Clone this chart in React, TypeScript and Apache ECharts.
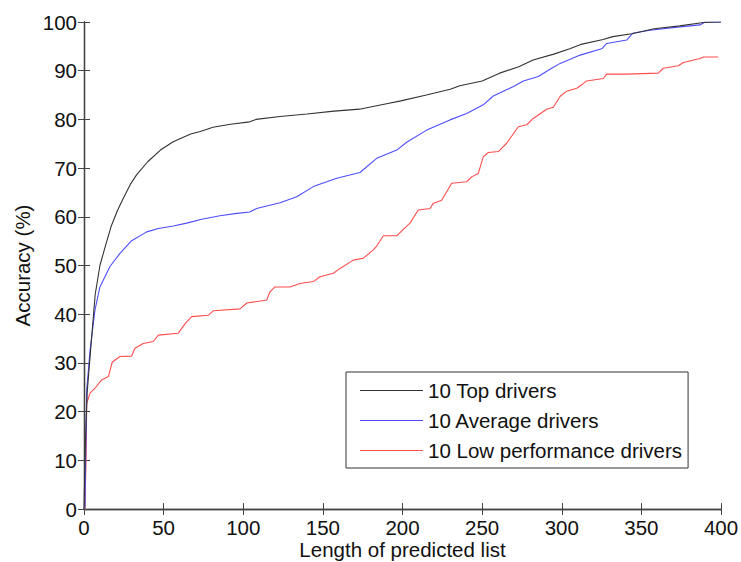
import React, { useEffect, useRef } from "react";
import * as echarts from "echarts";

const topX = [0, 1, 2, 4, 7, 10, 13, 17, 21, 25, 29, 33, 40, 48, 56, 67, 73, 81, 92, 104, 108, 123, 140, 157, 173, 190, 199, 215, 230, 236, 250, 261, 273, 282, 295, 305, 312, 326, 332, 344, 358, 374, 389, 400];
const topY = [0, 15, 24, 32, 44, 50, 53.5, 58, 61.3, 64, 66.6, 68.6, 71.3, 73.7, 75.4, 77, 77.5, 78.4, 79, 79.5, 80, 80.6, 81.1, 81.7, 82.1, 83.2, 83.8, 85, 86.2, 86.9, 87.9, 89.5, 90.8, 92.2, 93.4, 94.5, 95.4, 96.4, 97, 97.6, 98.6, 99.2, 99.9, 100];

const avgX = [0, 0.6, 1.7, 3.8, 6.9, 10, 16.3, 22.6, 29.9, 39.4, 46.7, 56.1, 64.5, 73.9, 85.4, 95.9, 104, 108.4, 123.1, 133.6, 144, 158.7, 173.3, 183.8, 196.4, 202.6, 215.2, 229.8, 240.3, 250.7, 257, 270.6, 275.9, 285.3, 292.6, 299, 305, 311.5, 325.1, 328.2, 340.8, 344.6, 355.4, 374.3, 386.8, 390, 400];
const avgY = [0, 0.5, 24.4, 32.6, 40.9, 45.6, 49.8, 52.5, 55.1, 56.9, 57.6, 58.1, 58.7, 59.5, 60.2, 60.7, 61, 61.7, 62.9, 64.1, 66.2, 67.9, 69.1, 72, 73.7, 75.3, 77.8, 79.9, 81.2, 83, 84.8, 86.9, 87.9, 88.8, 90.3, 91.5, 92.3, 93.2, 94.5, 95.6, 96.3, 97.7, 98.3, 99, 99.4, 100, 100];

const lowX = [0, 0.6, 1.3, 1.7, 3.8, 6.9, 11.1, 15.3, 17.8, 22.6, 29.9, 32, 37.2, 43.5, 46.7, 59.2, 63.4, 67.6, 78.1, 81.2, 98, 102.2, 114.7, 116.8, 119.9, 129.4, 135.6, 144, 148.2, 156.6, 160.8, 169.1, 175.4, 181.7, 183.8, 188, 196.4, 200.5, 204.7, 209.9, 217.3, 219.4, 224.6, 230.9, 240.3, 243.4, 247.6, 250.7, 253.9, 260.2, 265.4, 272.7, 278, 282.1, 290.5, 294.7, 298.9, 303.1, 309.4, 312.5, 315.6, 326.1, 328.2, 340.8, 360.6, 363.8, 373.2, 376.4, 386.8, 388.9, 398.3];
const lowY = [0, 0, 10.7, 21.7, 23.8, 24.8, 26.5, 27.2, 30.2, 31.3, 31.4, 33, 34, 34.4, 35.7, 36.1, 38, 39.5, 39.8, 40.7, 41.1, 42.3, 42.9, 44.6, 45.6, 45.6, 46.3, 46.7, 47.7, 48.4, 49.4, 51.1, 51.5, 53.2, 54, 56.1, 56.1, 57.4, 58.7, 61.4, 61.7, 62.8, 63.4, 66.9, 67.2, 68.2, 68.9, 72.3, 73.2, 73.4, 75.1, 78.5, 78.9, 80.2, 82.1, 82.5, 84.7, 85.8, 86.4, 87.1, 87.9, 88.4, 89.3, 89.3, 89.5, 90.5, 91, 91.7, 92.5, 92.8, 92.8];

const seriesNames = ["10 Top drivers", "10 Average drivers", "10 Low performance drivers"];
const seriesColors = ["#333333", "#4d4dff", "#ff4d4d"];
const xTicks = { min: 0, max: 400, interval: 50 };
const yTicks = { min: 0, max: 100, interval: 10 };

const FONT = "Liberation Sans, Arial, Helvetica, sans-serif";
const FS = 20.5;

function pairs(xs: number[], ys: number[]) {
  return xs.map((x, i) => [x, ys[i]]);
}

export default function App() {
  const ref = useRef<HTMLDivElement>(null);
  useEffect(() => {
    if (!ref.current) return;
    const chart = echarts.init(ref.current, undefined, { renderer: "svg" });
    const axisLine = { show: true, lineStyle: { color: "#444", width: 1.3 } };
    const axisTick = { show: true, inside: true, length: 6, lineStyle: { color: "#444", width: 1 } };
    const labelStyle = { color: "#111", fontSize: FS, fontFamily: FONT };
    const data = [pairs(topX, topY), pairs(avgX, avgY), pairs(lowX, lowY)];
    chart.setOption({
      animation: false,
      backgroundColor: "#ffffff",
      color: seriesColors,
      grid: { left: 84, right: 20, top: 22, bottom: 53, containLabel: false, outerBoundsMode: "none" },
      legend: {
        show: true,
        orient: "vertical",
        left: 346,
        top: 372,
        padding: [8, 6, 7, 14],
        itemGap: 9,
        itemWidth: 63,
        itemHeight: 1,
        icon: "rect",
        borderColor: "#333",
        borderWidth: 1,
        backgroundColor: "#fff",
        textStyle: { color: "#111", fontSize: FS, fontFamily: FONT, lineHeight: 20 },
        data: seriesNames,
      },
      xAxis: [
        {
          type: "value",
          ...xTicks,
          position: "bottom",
          axisLine,
          axisTick,
          splitLine: { show: false },
          axisLabel: { ...labelStyle, margin: 8 },
          name: "Length of predicted list",
          nameLocation: "middle",
          nameMoveOverlap: false,
          nameGap: 30,
          nameTextStyle: { color: "#111", fontSize: FS, fontFamily: FONT },
        },
        {
          type: "value",
          ...xTicks,
          position: "top",
          axisLine,
          axisTick,
          splitLine: { show: false },
          axisLabel: { show: false },
        },
      ],
      yAxis: [
        {
          type: "value",
          ...yTicks,
          position: "left",
          axisLine,
          axisTick,
          splitLine: { show: false },
          axisLabel: { ...labelStyle, margin: 7 },
          name: "Accuracy (%)",
          nameLocation: "middle",
          nameMoveOverlap: false,
          nameGap: 51,
          nameTextStyle: { color: "#111", fontSize: FS, fontFamily: FONT },
        },
        {
          type: "value",
          ...yTicks,
          position: "right",
          axisLine,
          axisTick,
          splitLine: { show: false },
          axisLabel: { show: false },
        },
      ],
      series: seriesNames.map((n, i) => ({
        name: n,
        type: "line",
        xAxisIndex: 0,
        yAxisIndex: 0,
        data: data[i],
        showSymbol: false,
        symbol: "none",
        smooth: false,
        color: seriesColors[i],
        lineStyle: { color: seriesColors[i], width: 1.1 },
        itemStyle: { color: seriesColors[i] },
        z: 5 - i,
      })),
    });
    return () => chart.dispose();
  }, []);
  return <div ref={ref} style={{ width: 741, height: 562, position: "absolute", left: 0, top: 0 }} />;
}
